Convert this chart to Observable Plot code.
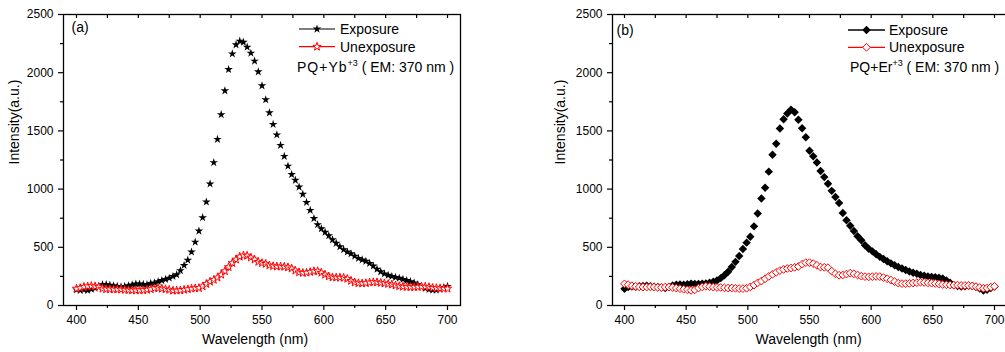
<!DOCTYPE html>
<html><head><meta charset="utf-8">
<script src="https://cdn.jsdelivr.net/npm/d3@7"></script>
<script src="https://cdn.jsdelivr.net/npm/@observablehq/plot@0.6"></script>
<style>
html,body{margin:0;padding:0;background:#fff;}
#wrap{position:relative;width:1005px;height:352px;overflow:hidden;background:#fff;font-family:"Liberation Sans",Arial,sans-serif;}
#wrap svg{position:absolute;top:0;}
</style></head><body><div id="wrap"></div>
<script>
// ---- data ----
const wavelength = [
400,403,406,409,412,415,418,421,424,427,
430,433,436,439,442,445,448,451,454,457,
460,463,466,469,472,475,478,481,484,487,
490,493,496,499,502,505,508,511,514,517,
520,523,526,529,532,535,538,541,544,547,
550,553,556,559,562,565,568,571,574,577,
580,583,586,589,592,595,598,601,604,607,
610,613,616,619,622,625,628,631,634,637,
640,643,646,649,652,655,658,661,664,667,
670,673,676,679,682,685,688,691,694,697,
700];

// (a) PQ+Yb
const ybExposure = [
135,130,135,130,140,150,165,180,180,175,
170,165,160,165,170,178,185,185,182,180,
190,195,205,215,225,235,250,265,300,345,
390,460,545,640,755,890,1045,1228,1428,1640,
1845,2028,2162,2240,2272,2262,2220,2168,2100,2008,
1888,1768,1656,1556,1466,1376,1282,1198,1126,1076,
1018,956,886,818,748,695,660,630,600,565,
535,505,480,460,445,425,405,392,380,362,
340,312,290,272,260,250,242,235,225,215,
205,195,180,163,148,138,132,132,140,155,
165];
const ybUnexposure = [
145,150,160,165,168,165,160,145,140,140,
138,138,138,135,132,130,130,130,132,135,
140,148,150,145,140,135,128,128,130,135,
140,145,148,150,165,185,205,220,240,265,
295,330,365,395,420,430,428,412,395,375,
365,358,345,338,335,335,333,328,318,300,
285,280,282,288,295,295,282,265,250,242,
240,240,238,230,212,198,192,190,192,198,
200,200,195,190,185,180,172,166,162,160,
158,158,160,162,162,158,152,150,148,145,
145];

// (b) PQ+Er
const erExposure = [
143,158,162,160,165,168,170,166,162,160,
155,150,160,172,178,180,178,182,188,186,
185,188,190,195,205,215,235,260,290,330,
375,425,485,540,590,680,790,920,1012,1150,
1295,1390,1520,1600,1650,1682,1660,1595,1522,1445,
1330,1282,1228,1155,1103,1046,985,932,880,795,
732,685,640,595,560,518,488,465,440,418,
400,380,362,345,330,318,305,292,282,272,
262,255,250,246,243,238,232,215,195,175,
168,162,165,170,168,160,145,128,135,150,
162];
const erUnexposure = [
186,178,170,165,160,158,158,160,158,155,
155,158,158,155,150,145,140,135,130,135,
150,160,165,162,158,155,155,152,150,150,
148,145,145,148,160,175,195,210,230,250,
268,285,300,310,318,322,328,335,355,368,
368,360,345,330,328,325,295,272,260,262,
270,278,272,262,252,248,246,248,250,248,
240,230,218,205,192,188,188,190,193,196,
200,198,195,192,190,185,180,178,176,175,
175,172,172,172,168,162,155,148,150,158,
165];

const xTicks = [400,450,500,550,600,650,700];
const xMinorTicks = [425,475,525,575,625,675];
const yTicks = [0,500,1000,1500,2000,2500];
const yMinorTicks = [250,750,1250,1750,2250];
const seriesNames = ["Exposure","Unexposure"];
const panelLabels = ["(a)","(b)"];
const sampleNames = ["PQ+Yb","PQ+Er"];
const xTitle = "Wavelength (nm)";
const yTitle = "Intensity(a.u.)";

const FONT = '"Liberation Sans", Arial, sans-serif';
const wrap = document.getElementById("wrap");
const noLabel = () => "";

function rows(ys){ return wavelength.map((w,i)=>({w, v: ys[i]})); }

function panel(cfg){
  const p = Plot.plot({
    width: cfg.width, height: 352,
    marginLeft: cfg.mL, marginRight: cfg.mR, marginTop: 14, marginBottom: 47,
    x: {domain: cfg.xDomain},
    y: {domain: [0, 2500]},
    style: {fontFamily: FONT, fontSize: "12px", color: "black", background: "transparent", overflow: "visible"},
    marks: [
      Plot.dot(rows(cfg.exp), {x: "w", y: "v", symbol: cfg.sym, r: cfg.rExp, fill: "black", stroke: "none"}),
      Plot.dot(rows(cfg.un), {x: "w", y: "v", symbol: cfg.sym, r: cfg.rUn, fill: "white", stroke: "#ff0000", strokeWidth: 1}),
      Plot.frame({stroke: "black", strokeWidth: 1.3}),
      Plot.axisX({ticks: xTicks, tickSize: 5, tickPadding: 5, tickFormat: d => String(d), label: null, fontSize: 12, strokeWidth: 1.2}),
      Plot.axisX({ticks: xMinorTicks, tickSize: 3, tickFormat: noLabel, label: null, strokeWidth: 1.2}),
      Plot.axisX({anchor: "top", ticks: [...xTicks, ...xMinorTicks], tickSize: 3, dy: 3, tickFormat: noLabel, label: null, strokeWidth: 1.2}),
      Plot.axisY({ticks: yTicks, tickSize: 5, tickPadding: 5, tickFormat: d => String(d), label: null, fontSize: 12, strokeWidth: 1.2}),
      Plot.axisY({ticks: yMinorTicks, tickSize: 3, tickFormat: noLabel, label: null, strokeWidth: 1.2}),
      Plot.text([xTitle], {frameAnchor: "bottom", lineAnchor: "bottom", dy: 38, dx: cfg.xtDx, fontSize: 14, fill: "black"}),
      Plot.text([yTitle], {frameAnchor: "left", rotate: -90, dx: cfg.ytDx, dy: 4.5, fontSize: 14, fill: "black"}),
      Plot.text([cfg.label], {frameAnchor: "top-left", textAnchor: "start", lineAnchor: "bottom", dx: cfg.lDx, dy: cfg.lDy, fontSize: 14, fill: "black"})
    ]
  });
  p.style.left = cfg.left + "px";
  wrap.appendChild(p);
}

panel({left: 0, width: 470, mL: 63, mR: 10, xDomain: [389.49, 710.51],
  exp: ybExposure, un: ybUnexposure, sym: "star", rExp: 2.7, rUn: 2.6,
  xtDx: -7, ytDx: -49, label: panelLabels[0], lDx: 8, lDy: 17.5});
panel({left: 545, width: 462, mL: 67, mR: 0, xDomain: [390.27, 710.54],
  exp: erExposure, un: erUnexposure, sym: "diamond2", rExp: 3.8, rUn: 3.5,
  xtDx: -1.5, ytDx: -51.5, label: panelLabels[1], lDx: 4, lDy: 20});

// ---- legends ----
const lg = d3.select(wrap).append("svg").attr("width", 1005).attr("height", 352).style("left", "0px");
function legend(o){
  const g = lg.append("g").attr("font-family", FONT).attr("font-size", 14);
  const items = [
    {y: o.y1, ty: o.t1, line: o.expLine, fill: "black", stroke: "none", r: o.rExp, name: seriesNames[0]},
    {y: o.y2, ty: o.t2, line: "#ff0000", fill: "white", stroke: "#ff0000", r: o.rUn, name: seriesNames[1]}
  ];
  items.forEach(it => {
    g.append("line").attr("x1", o.x1).attr("x2", o.x2).attr("y1", it.y).attr("y2", it.y)
      .attr("stroke", it.line).attr("stroke-width", 1.3);
    g.append("path").attr("d", d3.symbol().type(o.sym).size(Math.PI * it.r * it.r)())
      .attr("transform", `translate(${(o.x1 + o.x2) / 2},${it.y})`)
      .attr("fill", it.fill).attr("stroke", it.stroke).attr("stroke-width", 1);
    g.append("text").attr("x", o.tx).attr("y", it.ty).attr("fill", "black").text(it.name);
  });
  const t = g.append("text").attr("x", o.px).attr("y", o.py).attr("fill", "black");
  t.append("tspan").attr("letter-spacing", o.ls).text(o.sample);
  t.append("tspan").attr("font-size", 9).attr("dy", -6).text("+3");
  t.append("tspan").attr("font-size", 14).attr("dy", 6).text(" ( EM: 370 nm )");
}
legend({x1: 299, x2: 335, y1: 29, y2: 46.7, t1: 34, t2: 51.5, tx: 340, expLine: "#555",
  sym: d3.symbolStar, rExp: 2.7, rUn: 2.6, px: 297, py: 72, ls: 1, sample: sampleNames[0]});
legend({x1: 848, x2: 885, y1: 30, y2: 47.3, t1: 35, t2: 52, tx: 889, expLine: "black",
  sym: d3.symbolDiamond2, rExp: 3.8, rUn: 3.5, px: 850, py: 72, ls: 0, sample: sampleNames[1]});
</script>
</body></html>
